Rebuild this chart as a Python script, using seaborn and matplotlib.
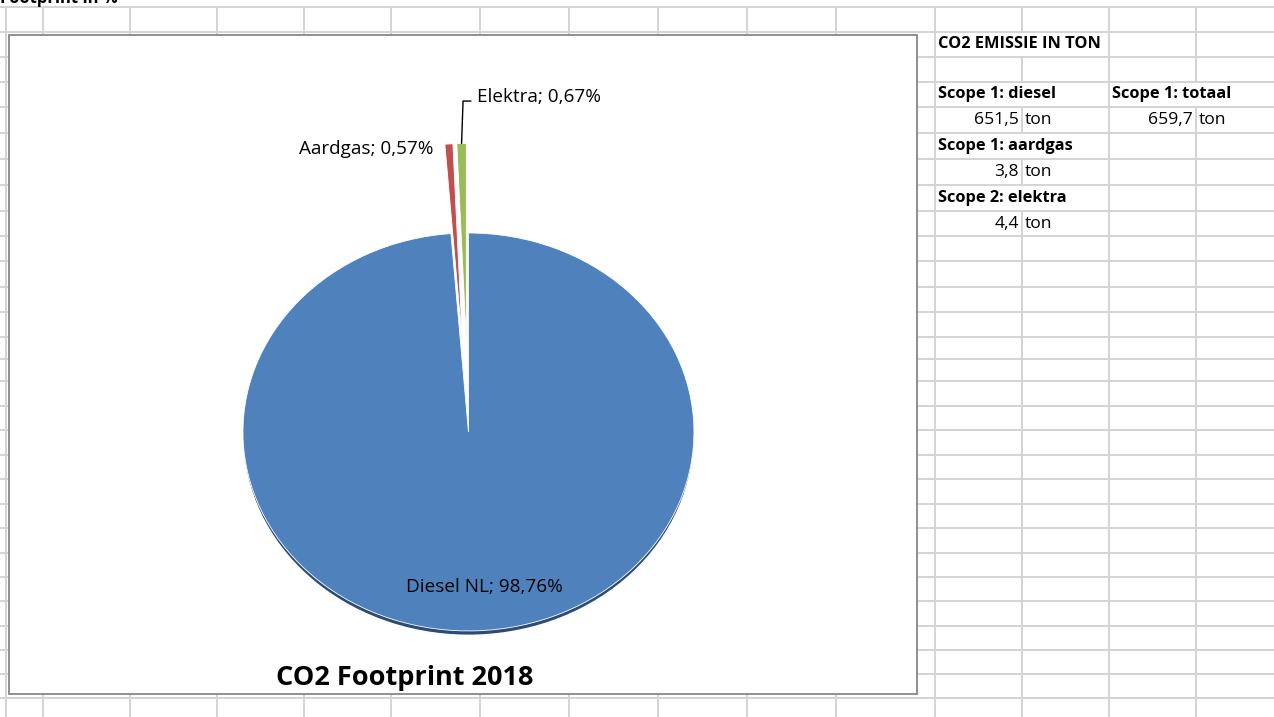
import matplotlib
matplotlib.use('Agg')
from matplotlib import pyplot as plt
from matplotlib.patches import Rectangle
import numpy as np
import seaborn as sns

# pie data (CO2 footprint 2018, share in %)
labels = ['Diesel NL', 'Aardgas', 'Elektra']
shares = [98.76, 0.57, 0.67]
pie_colors = ['#4F81BD', '#C0504D', '#9BBB59']
explode = [0, 0.45, 0.45]

# side table (ton CO2)
table_heads = ['Scope 1: diesel', 'Scope 1: aardgas', 'Scope 2: elektra']
table_tons = [651.5, 3.8, 4.4]
total_head = 'Scope 1: totaal'
total_ton = 659.7

W, H = 1274, 717
# excel sheet grid (pixels)
col_x = [6, 43, 130, 217, 304, 391, 480, 569, 658, 747, 836, 935, 1022, 1109, 1196]
row_y = [7, 32, 57, 82, 107, 133, 159, 185, 211, 236, 261, 287, 312, 337, 359,
         381, 406, 430, 455, 479, 504, 528, 553, 577, 601, 626, 650, 674, 698]
# cells where text runs over the vertical gridline
skip = {(1022, 1), (1022, 3), (1022, 5), (1022, 7), (1196, 3)}

sns.set_theme(style='white')
plt.rcParams['font.family'] = ['Open Sans', 'DejaVu Sans']
plt.rcParams['text.color'] = 'black'

fig = plt.figure(figsize=(W / 100, H / 100), dpi=100)
bg = fig.add_axes([0, 0, 1, 1])
bg.set_xlim(0, W)
bg.set_ylim(H, 0)
bg.axis('off')

grid_c = '#D4D4D4'
for y in row_y:
    bg.plot([0, W], [y, y], color=grid_c, lw=1.4, zorder=1)
bounds = row_y + [H]
for x in col_x:
    for i in range(len(bounds) - 1):
        if (x, i) in skip:
            continue
        bg.plot([x, x], [bounds[i], bounds[i + 1]], color=grid_c, lw=1.4, zorder=1)

# chart area
bg.add_patch(Rectangle((9, 35), 908, 659, facecolor='white', edgecolor='#878787',
                       lw=1.3, zorder=3))
bg.text(405, 678, 'CO2 Footprint 2018', ha='center', va='center', fontsize=19.5,
        fontweight='bold', zorder=5)
bg.text(0, 3, 'Footprint in %', ha='left', va='baseline', fontsize=12,
        fontweight='bold', zorder=5)

# table text
fmt = lambda v: f'{v:.1f}'.replace('.', ',')
rc = lambda i: (row_y[i] + row_y[i + 1]) / 2
fb, fr = 11.8, 12.6
bg.text(938, rc(1), 'CO2 EMISSIE IN TON', ha='left', va='center', fontsize=fb,
        fontweight='bold', zorder=5)
for k, (head, val) in enumerate(zip(table_heads, table_tons)):
    r = 3 + 2 * k
    bg.text(938, rc(r), head, ha='left', va='center', fontsize=fb, fontweight='bold', zorder=5)
    bg.text(1019, rc(r + 1), fmt(val), ha='right', va='center', fontsize=fr, zorder=5)
    bg.text(1025, rc(r + 1), 'ton', ha='left', va='center', fontsize=fr, zorder=5)
bg.text(1112, rc(3), total_head, ha='left', va='center', fontsize=fb, fontweight='bold', zorder=5)
bg.text(1193, rc(4), fmt(total_ton), ha='right', va='center', fontsize=fr, zorder=5)
bg.text(1199, rc(4), 'ton', ha='left', va='center', fontsize=fr, zorder=5)

# pie axes over the chart area
ax = fig.add_axes([10 / W, (H - 694) / H, 907 / W, 659 / H], zorder=4)
ax.patch.set_alpha(0)
# dark rim under the big slice
ax.pie(shares, colors=['#2B4C74', 'none', 'none'], explode=explode, startangle=90,
       counterclock=False, center=(0, -0.022))
wedges, _ = ax.pie(shares, colors=pie_colors, explode=explode, startangle=90,
                   counterclock=False,
                   wedgeprops=dict(edgecolor='white', linewidth=0.6))
ax.set_aspect('auto')
ax.set_xlim(-2.033, 1.989)
ax.set_ylim(-1.317, 1.995)
ax.axis('off')

pct = lambda v: f'{v:.2f}'.replace('.', ',') + '%'
fl = 13.6
# label positions
w_el = wedges[2]
mid = np.deg2rad((w_el.theta1 + w_el.theta2) / 2)
tip = (1 + explode[2]) * np.cos(mid), (1 + explode[2]) * np.sin(mid)
ax.plot([tip[0], -0.024, 0.011], [tip[1], 1.663, 1.663], color='black', lw=1.0)
ax.text(0.04, 1.683, f'{labels[2]}; {pct(shares[2])}', ha='left', va='center', fontsize=fl)
ax.text(-0.157, 1.422, f'{labels[1]}; {pct(shares[1])}', ha='right', va='center', fontsize=fl)
ax.text(0.073, -0.779, f'{labels[0]}; {pct(shares[0])}', ha='center', va='center', fontsize=fl)

fig.savefig('out.png', dpi=100)
